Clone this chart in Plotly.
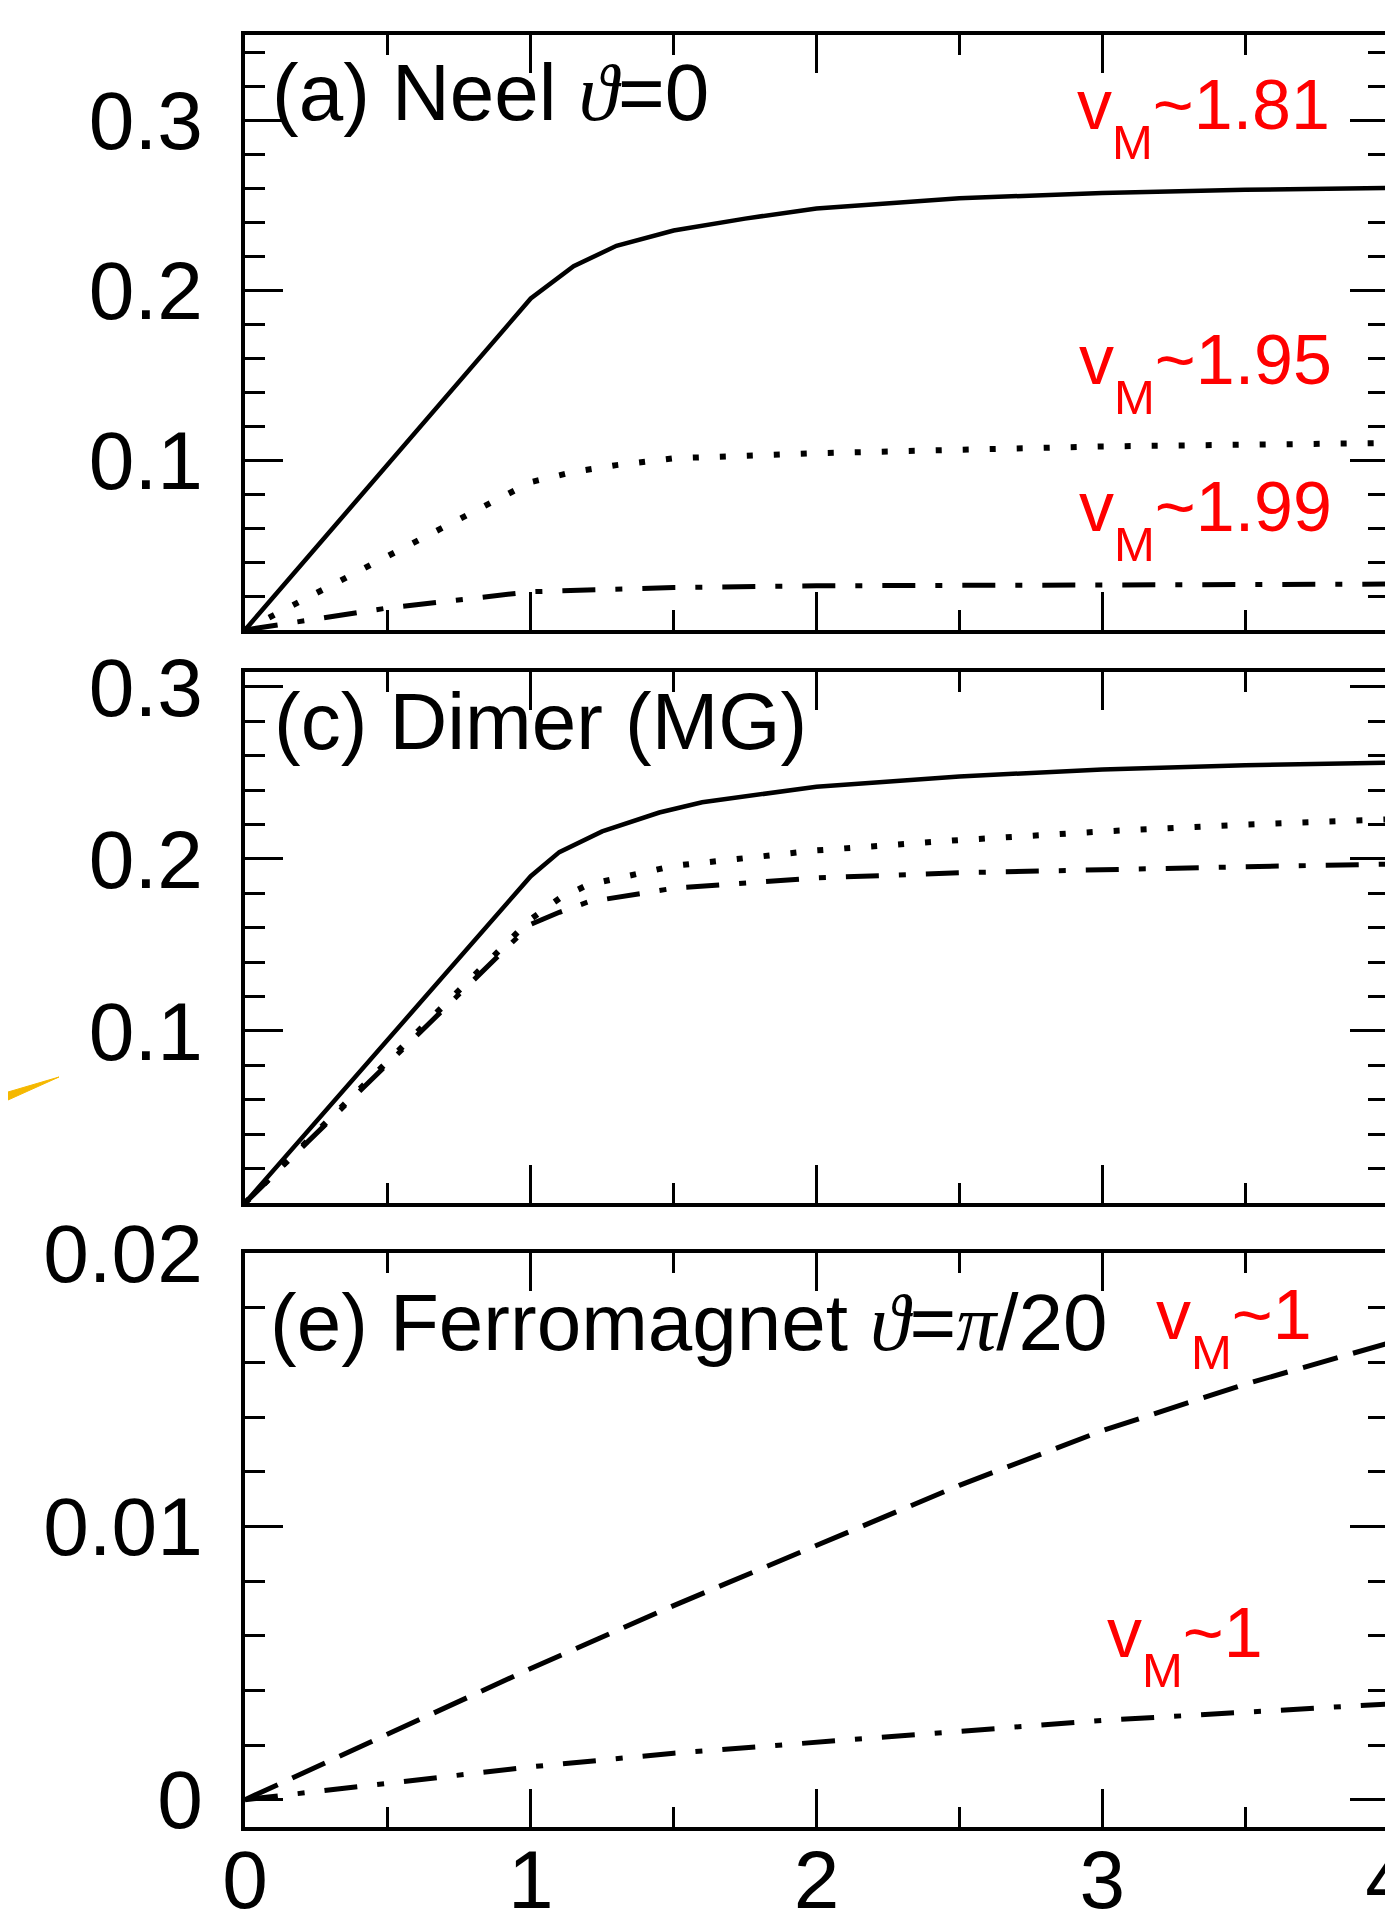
import plotly.graph_objects as go

# ---------------- data ----------------
# Panel (a) Neel
a_solid_x = [0, 1, 1.15, 1.3, 1.5, 1.75, 2, 2.5, 3, 3.5, 4]
a_solid_y = [0, 0.195, 0.214, 0.226, 0.235, 0.242, 0.248, 0.254, 0.257, 0.259, 0.260]
a_dot_x = [0, 1, 1.15, 1.3, 1.5, 2, 2.5, 3, 3.5, 4]
a_dot_y = [0, 0.087, 0.093, 0.097, 0.101, 0.104, 0.106, 0.108, 0.109, 0.110]
a_dd_x = [0, 0.5, 1, 1.5, 2, 3, 4]
a_dd_y = [0, 0.013, 0.0225, 0.025, 0.026, 0.0265, 0.027]

# Panel (c) Dimer (MG)
c_solid_x = [0, 1, 1.1, 1.25, 1.45, 1.6, 2, 2.5, 3, 3.5, 4]
c_solid_y = [0, 0.19, 0.204, 0.216, 0.227, 0.233, 0.242, 0.248, 0.252, 0.2545, 0.256]
c_dot_x = [0, 1, 1.1, 1.2, 1.5, 2, 2.5, 3, 3.5, 4]
c_dot_y = [0, 0.165, 0.177, 0.185, 0.196, 0.205, 0.211, 0.216, 0.220, 0.223]
c_dd_x = [0, 1, 1.1, 1.2, 1.5, 2, 2.5, 3, 3.5, 4]
c_dd_y = [0, 0.162, 0.169, 0.175, 0.183, 0.189, 0.192, 0.194, 0.1955, 0.197]

# Panel (e) Ferromagnet
e_dash_x = [0, 0.5, 1, 1.5, 2, 2.5, 3, 3.5, 4]
e_dash_y = [0, 0.0024, 0.0048, 0.0071, 0.0093, 0.0115, 0.0135, 0.0152, 0.0167]
e_dd_x = [0, 0.5, 1, 1.5, 2, 2.5, 3, 3.5, 4]
e_dd_y = [0, 0.0006, 0.0012, 0.0017, 0.0021, 0.0025, 0.0029, 0.0032, 0.0035]

x_ticks = [0, 1, 2, 3, 4]
ya_ticks = [0.1, 0.2, 0.3]
yc_ticks = [0.1, 0.2, 0.3]
ye_ticks = [0, 0.01, 0.02]
ye_ticktext = ["0", "0.01", "0.02"]

# ---------------- styles ----------------
FONT = "Liberation Sans, Arial, Helvetica, sans-serif"
W, H = 1393, 1911
ML, MR, MT, MB = 237, 13, 27, 92
PW, PH = W - ML - MR, H - MT - MB


def px_x(px):
    return (px - ML) / PW


def px_y(py):
    return (H - MB - py) / PH


SOLID = dict(color="black", width=4.5)
DOT = dict(color="black", width=6, dash="6px,21px")
DASHDOT = dict(color="black", width=5, dash="33px,20px,7px,20px")
DASH = dict(color="black", width=5, dash="36px,16px")

fig = go.Figure()


def add(x, y, line, xa, ya):
    fig.add_trace(go.Scatter(x=x, y=y, mode="lines", line=line,
                             xaxis=xa, yaxis=ya, showlegend=False,
                             hoverinfo="skip"))


add(a_solid_x, a_solid_y, SOLID, "x", "y")
add(a_dot_x, a_dot_y, DOT, "x", "y")
add(a_dd_x, a_dd_y, DASHDOT, "x", "y")
add(c_solid_x, c_solid_y, SOLID, "x2", "y2")
add(c_dot_x, c_dot_y, DOT, "x2", "y2")
add(c_dd_x, c_dd_y, DASHDOT, "x2", "y2")
add(e_dash_x, e_dash_y, DASH, "x3", "y3")
add(e_dd_x, e_dd_y, DASHDOT, "x3", "y3")

common_axis = dict(
    showline=True, linecolor="black", linewidth=3.5, mirror="ticks",
    ticks="inside", ticklen=38, tickwidth=3, tickcolor="black",
    showgrid=False, zeroline=False, automargin=False,
    ticklabeloverflow="allow",
    tickfont=dict(family=FONT, size=82, color="black"),
)

dom_a = [px_y(622), 1.0]
dom_c = [px_y(1195), px_y(664)]
dom_e = [0.0, px_y(1245)]


def xaxis(anchor, labels):
    d = dict(common_axis)
    d.update(range=[0, 4], tickmode="array", tickvals=x_ticks,
             showticklabels=labels, anchor=anchor, domain=[0, 1],
             ticklabelstandoff=-21,
             minor=dict(dtick=0.5, tick0=0, ticks="inside", ticklen=20,
                        tickwidth=3, tickcolor="black", showgrid=False))
    return d


def yaxis(anchor, dom, rng, tv, tt, mdt):
    d = dict(common_axis)
    d.update(range=rng, tickmode="array", tickvals=tv, ticktext=tt,
             anchor=anchor, domain=dom, ticklabelstandoff=22,
             minor=dict(dtick=mdt, tick0=0, ticks="inside", ticklen=20,
                        tickwidth=3, tickcolor="black", showgrid=False))
    return d


fig.update_layout(
    width=W, height=H,
    margin=dict(l=ML, r=MR, t=MT, b=MB, autoexpand=False),
    paper_bgcolor="white", plot_bgcolor="white",
    font=dict(family=FONT, color="black"),
    xaxis=xaxis("y", False),
    xaxis2=xaxis("y2", False),
    xaxis3=xaxis("y3", True),
    yaxis=yaxis("x", dom_a, [0, 0.35], ya_ticks, ["0.1", "0.2", "0.3"], 0.02),
    yaxis2=yaxis("x2", dom_c, [0, 0.3087], yc_ticks, ["0.1", "0.2", "0.3"], 0.02),
    yaxis3=yaxis("x3", dom_e, [-0.001, 0.02], ye_ticks, ye_ticktext, 0.002),
)

# ---------------- text ----------------
def label(text, px, py, size, color="black", xanchor="left"):
    fig.add_annotation(text=text, x=px_x(px), y=px_y(py), xref="paper",
                       yref="paper", xanchor=xanchor, yanchor="middle",
                       showarrow=False,
                       font=dict(family=FONT, size=size, color=color))


THETA = "<span style='font-family:Liberation Serif'><i>ϑ</i></span>"
PI = "<span style='font-family:Liberation Serif'><i>π</i></span>"

label(f"(a) Neel {THETA}=0", 262, 85, 80)
label("(c) Dimer (MG)", 264, 713, 80)
label(f"(e) Ferromagnet {THETA}={PI}/20", 260, 1314, 80)

RED = "#ff0000"
VM = "v<sub><span style='baseline-shift:-15px'>M</span></sub>"
label(VM + "~1.81", 1324, 109, 70, RED, "right")
label(VM + "~1.95", 1326, 364, 70, RED, "right")
label(VM + "~1.99", 1326, 511, 70, RED, "right")
label(VM + "~1", 1306, 1319, 70, RED, "right")
label(VM + "~1", 1257, 1637, 70, RED, "right")

# small yellow stroke at left margin
fig.add_shape(type="path", xref="paper", yref="paper",
              path=f"M {px_x(0)} {px_y(1084)} L {px_x(51)} {px_y(1069)} L {px_x(0)} {px_y(1092)} Z",
              fillcolor="#f5b800", line=dict(color="#f5b800", width=1))

fig.write_html("out.html")
